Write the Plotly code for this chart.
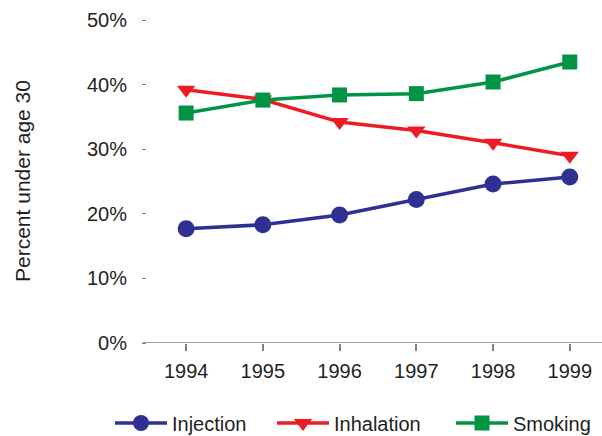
import plotly.graph_objects as go

years = [1994, 1995, 1996, 1997, 1998, 1999]
injection = [17.7, 18.3, 19.8, 22.2, 24.6, 25.7]
inhalation = [39.2, 37.7, 34.2, 32.9, 31.0, 29.0]
smoking = [35.6, 37.6, 38.4, 38.6, 40.4, 43.5]
y_ticks = [0, 10, 20, 30, 40, 50]
y_labels = ["0%", "10%", "20%", "30%", "40%", "50%"]

FONT = "Liberation Sans, Arial, sans-serif"
TXT = "#231f20"

fig = go.Figure()
fig.add_trace(go.Scatter(x=years, y=injection, name="Injection", mode="lines+markers",
                         line=dict(color="#2e3192", width=3.5), legend="legend",
                         marker=dict(symbol="circle", size=17, color="#2e3192")))
fig.add_trace(go.Scatter(x=years, y=inhalation, name="Inhalation", mode="lines+markers",
                         line=dict(color="#ed1c24", width=3.5), legend="legend2",
                         marker=dict(symbol="triangle-down", size=16, color="#ed1c24")))
fig.add_trace(go.Scatter(x=years, y=smoking, name="Smoking", mode="lines+markers",
                         line=dict(color="#009444", width=3.5), legend="legend3",
                         marker=dict(symbol="square", size=15, color="#009444")))

def leg(xpx):
    return dict(orientation="h", x=xpx / 602, xref="container", xanchor="left",
                y=(436 - 423) / 436, yref="container", yanchor="middle",
                font=dict(size=20, color=TXT), itemwidth=52, bgcolor="rgba(0,0,0,0)")

fig.update_layout(
    width=602, height=436,
    margin=dict(l=147, r=0, t=20, b=93),
    paper_bgcolor="white", plot_bgcolor="white",
    font=dict(family=FONT, size=20, color=TXT),
    showlegend=True,
    legend=leg(110), legend2=leg(272), legend3=leg(451),
    xaxis=dict(range=[1993.49, 1999.42], tickvals=years, ticktext=[str(y) for y in years],
               showgrid=False, zeroline=False, showline=False,
               ticks="outside", ticklen=7, tickwidth=1.5, tickcolor="#808080",
               tickfont=dict(size=20, color=TXT), ticklabelstandoff=3),
    yaxis=dict(range=[0, 50], tickvals=y_ticks, ticktext=y_labels,
               showgrid=False, zeroline=False, showline=False,
               ticks="outside", ticklen=4, tickwidth=1.2, tickcolor="#808080",
               tickfont=dict(size=20, color=TXT), ticklabelstandoff=11),
    shapes=[dict(type="line", xref="paper", yref="y", x0=-0.009, x1=1, y0=0, y1=0,
                 line=dict(color="#808080", width=1.5), layer="below")],
    annotations=[dict(text="Percent under age 30", xref="paper", yref="paper",
                      x=-147/455 + 22/455, y=(343 - 181) / 323, textangle=-90,
                      showarrow=False, xanchor="center", yanchor="middle",
                      font=dict(size=21, color=TXT))],
)

fig.write_html("out.html", config={"displayModeBar": False},
               post_script="document.body.style.margin='0';document.body.style.overflow='hidden';")
